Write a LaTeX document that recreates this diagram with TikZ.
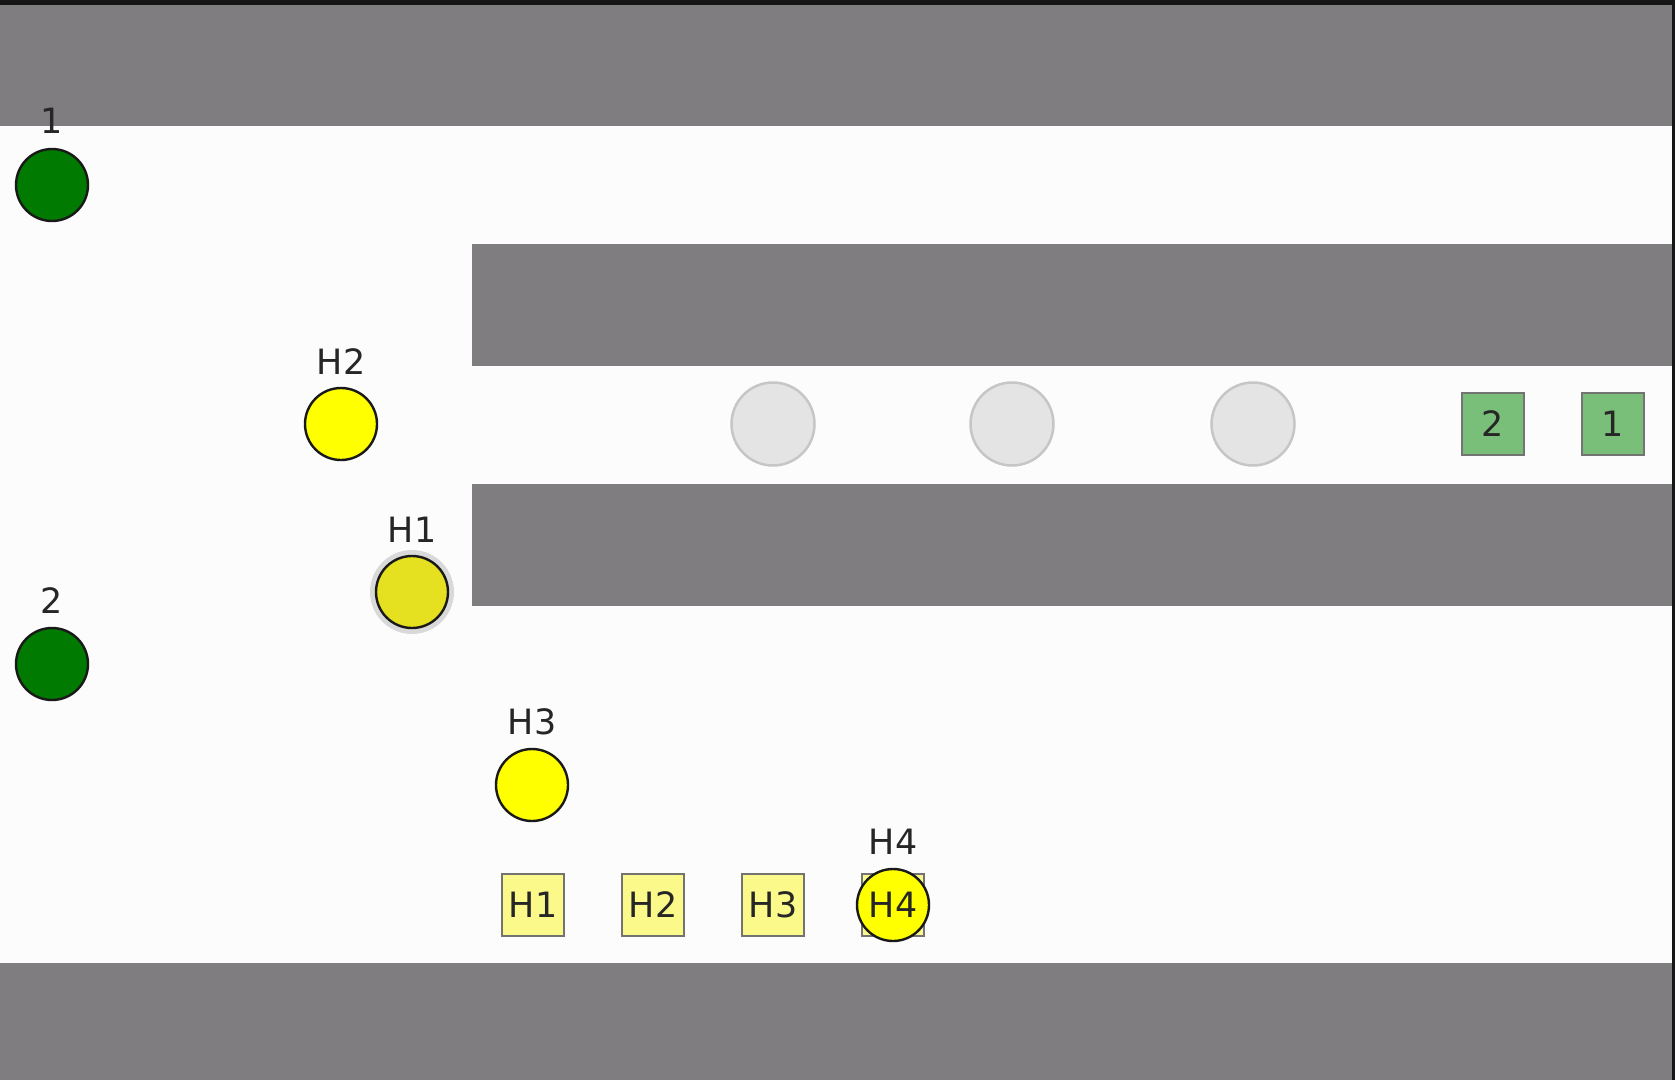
\documentclass[tikz,border=0pt]{standalone}
\usepackage{fontspec}
\setmainfont{DejaVu Sans}
\definecolor{bgw}{HTML}{FDFCFD}
\definecolor{wall}{HTML}{7F7D80}
\definecolor{edge}{HTML}{151515}
\definecolor{agentgreen}{HTML}{007A00}
\definecolor{agentyellow}{HTML}{FFFF00}
\definecolor{dimyellow}{HTML}{E5E020}
\definecolor{ghostfill}{HTML}{E4E4E4}
\definecolor{ghostline}{HTML}{C6C6C6}
\definecolor{goalgreen}{HTML}{79BF79}
\definecolor{goalyellow}{HTML}{FAF98A}
\begin{document}
\begin{tikzpicture}[x=1bp,y=-1bp,
  lbl/.style={font=\fontsize{35}{40}\selectfont, text=black!85, inner sep=0pt},
  agent/.style={circle, draw=black!90, line width=2.4bp, minimum size=72bp, inner sep=0pt},
  ghost/.style={circle, draw=ghostline, fill=ghostfill, line width=2.5bp, minimum size=83bp, inner sep=0pt},
  goal/.style={rectangle, draw=black!55, line width=1.6bp, minimum size=62bp, inner sep=0pt, font=\fontsize{35}{40}\selectfont, text=black!85}]
% background and walls
\fill[bgw] (0,0) rectangle (1675,1080);
\useasboundingbox (0,0) rectangle (1675,1080);
\fill[wall] (0,0) rectangle (1675,126);
\fill[edge] (0,0) rectangle (1675,5);
\fill[wall] (472,244) rectangle (1675,366);
\fill[wall] (472,484) rectangle (1675,606);
\fill[wall] (0,963) rectangle (1675,1080);
\fill[edge] (1672,0) rectangle (1675,1080);
% ghost circles
\node[ghost] (g1) at (773,424) {};
\node[ghost] (g2) at (1012,424) {};
\node[ghost] (g3) at (1253,424) {};
% green goals
\node[goal, fill=goalgreen] (G2) at (1493,424) {2};
\node[goal, fill=goalgreen] (G1) at (1613,424) {1};
% yellow goals
\node[goal, fill=goalyellow] (Y1) at (533,905) {H1};
\node[goal, fill=goalyellow] (Y2) at (653,905) {H2};
\node[goal, fill=goalyellow] (Y3) at (773,905) {H3};
\node[goal, fill=goalyellow] (Y4) at (893,905) {};
% green agents
\node[agent, fill=agentgreen] (a1) at (52,185) {};
\node[lbl] (l1) at (52,121) {1};
\node[agent, fill=agentgreen] (a2) at (52,664) {};
\node[lbl] (l2) at (52,601) {2};
% yellow agents
\node[agent, fill=agentyellow] (h2) at (341,424) {};
\node[lbl] (lh2) at (341,362) {H2};
\node[circle, fill=black!15, minimum size=84bp, inner sep=0pt] (h1halo) at (412,592) {};
\node[agent, fill=dimyellow] (h1) at (412,592) {};
\node[lbl] (lh1) at (412,530) {H1};
\node[agent, fill=agentyellow] (h3) at (532,785) {};
\node[lbl] (lh3) at (532,722) {H3};
\node[agent, fill=agentyellow, font=\fontsize{35}{40}\selectfont, text=black!85] (h4) at (893,905) {H4};
\node[lbl] (lh4) at (893,842) {H4};
\end{tikzpicture}
\end{document}
